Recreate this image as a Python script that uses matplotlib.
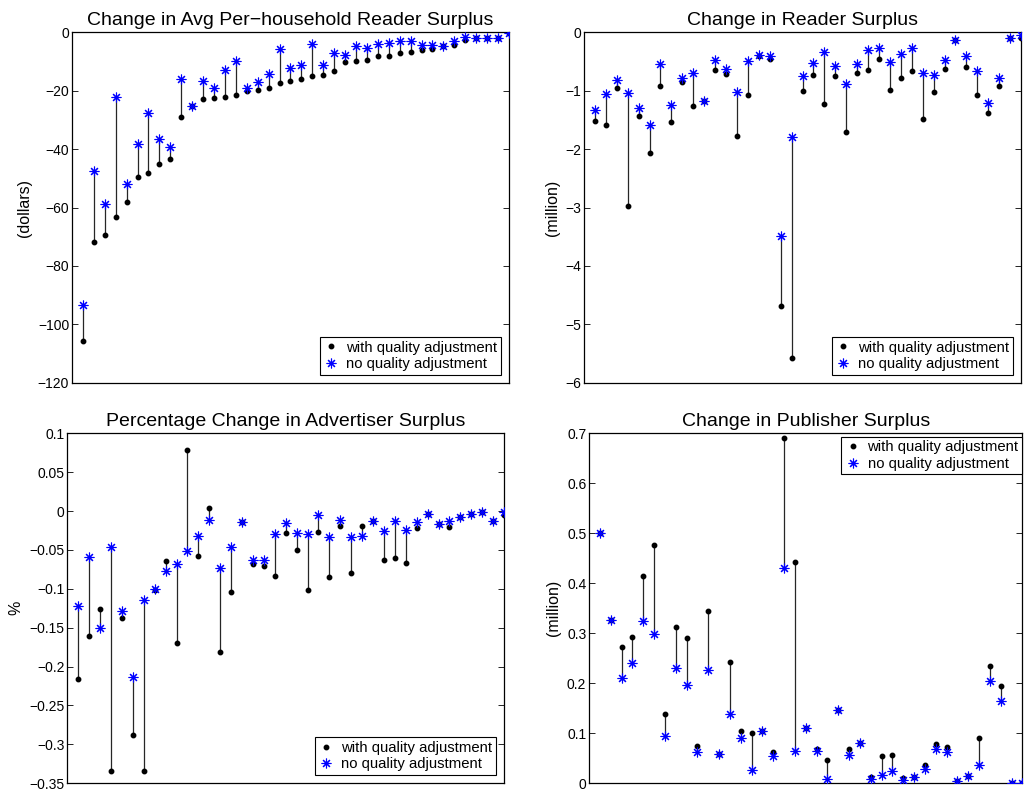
import matplotlib
matplotlib.use("Agg")
import matplotlib.pyplot as plt
from matplotlib.ticker import FuncFormatter

plt.rcParams["font.family"] = ["Liberation Sans", "DejaVu Sans"]

# Painel 1: variacao no excedente medio por domicilio (dolares)
reader_hh_qa = [-105.8, -71.7, -69.5, -63.3, -58.0, -49.7, -48.1, -45.2, -43.3, -29.0,
                -25.2, -22.8, -22.5, -22.3, -21.4, -20.1, -19.6, -19.1, -17.4, -16.8,
                -15.9, -14.8, -14.7, -13.4, -10.0, -9.7, -9.4, -8.1, -8.0, -7.1,
                -6.6, -6.2, -5.8, -4.6, -4.2, -2.6, -2.1, -2.1, -2.1, -0.3]
reader_hh_noqa = [-93.3, -47.5, -58.8, -22.2, -52.0, -38.1, -27.7, -36.6, -39.4, -15.9,
                  -25.2, -16.7, -19.1, -12.9, -9.7, -19.2, -17.1, -14.2, -5.6, -12.1,
                  -11.3, -4.1, -11.3, -7.0, -7.8, -4.7, -5.5, -4.0, -3.8, -2.9,
                  -3.1, -4.3, -4.3, -4.6, -3.1, -1.7, -2.1, -2.1, -2.1, -0.3]

# Painel 2: variacao no excedente do leitor (milhoes)
reader_qa = [-1.51, -1.59, -0.96, -2.97, -1.44, -2.07, -0.92, -1.54, -0.85, -1.27,
             -1.17, -0.65, -0.72, -1.78, -1.07, -0.40, -0.46, -4.68, -5.57, -1.01,
             -0.73, -1.23, -0.74, -1.71, -0.70, -0.64, -0.45, -0.99, -0.78, -0.67,
             -1.48, -1.02, -0.62, -0.14, -0.59, -1.08, -1.38, -0.92, -0.09, -0.09]
reader_noqa = [-1.33, -1.05, -0.82, -1.04, -1.29, -1.59, -0.54, -1.25, -0.78, -0.70,
               -1.17, -0.48, -0.62, -1.03, -0.49, -0.39, -0.40, -3.48, -1.79, -0.74,
               -0.52, -0.34, -0.58, -0.89, -0.55, -0.31, -0.27, -0.51, -0.37, -0.26,
               -0.70, -0.73, -0.47, -0.14, -0.41, -0.66, -1.21, -0.78, -0.09, -0.04]

# Painel 3: variacao percentual no excedente do anunciante
adv_qa = [-0.2155, -0.161, -0.126, -0.334, -0.138, -0.288, -0.334, -0.102, -0.064, -0.170,
          0.078, -0.0577, 0.0044, -0.181, -0.104, -0.0137, -0.0676, -0.071, -0.0835, -0.028,
          -0.0496, -0.102, -0.0269, -0.0843, -0.0187, -0.080, -0.0187, -0.0123, -0.0629, -0.0603,
          -0.0663, -0.0222, -0.0042, -0.0162, -0.0209, -0.0076, -0.0033, -0.0011, -0.0123, -0.005]
adv_noqa = [-0.1216, -0.059, -0.150, -0.0457, -0.128, -0.213, -0.114, -0.1006, -0.0775, -0.068,
            -0.051, -0.0316, -0.011, -0.0727, -0.046, -0.0137, -0.0625, -0.0633, -0.030, -0.0153,
            -0.028, -0.030, -0.0046, -0.0329, -0.0119, -0.0329, -0.032, -0.0123, -0.026, -0.0132,
            -0.0243, -0.014, -0.0042, -0.0162, -0.0123, -0.0076, -0.0033, -0.0011, -0.0123, -0.0016]

# Painel 4: variacao no excedente do editor (milhoes)
pub_qa = [0.5007, 0.327, 0.272, 0.292, 0.415, 0.477, 0.139, 0.313, 0.291, 0.075,
          0.345, 0.059, 0.242, 0.104, 0.101, 0.104, 0.063, 0.691, 0.443, 0.110,
          0.069, 0.046, 0.147, 0.069, 0.081, 0.013, 0.055, 0.057, 0.011, 0.013,
          0.036, 0.079, 0.072, 0.0047, 0.0147, 0.091, 0.234, 0.195, 0.0013, 0.0]
pub_noqa = [0.5007, 0.327, 0.211, 0.241, 0.325, 0.299, 0.095, 0.230, 0.197, 0.063,
            0.226, 0.059, 0.139, 0.091, 0.027, 0.104, 0.055, 0.431, 0.064, 0.110,
            0.064, 0.0087, 0.147, 0.057, 0.081, 0.008, 0.017, 0.025, 0.0073, 0.013,
            0.028, 0.069, 0.062, 0.0047, 0.0147, 0.037, 0.205, 0.165, 0.0013, 0.0]

paineis = [
    ("Change in Avg Per\u2212household Reader Surplus", "(dollars)", reader_hh_qa, reader_hh_noqa,
     (-120, 0), [-120, -100, -80, -60, -40, -20, 0], "lower right"),
    ("Change in Reader Surplus", "(million)", reader_qa, reader_noqa,
     (-6, 0), [-6, -5, -4, -3, -2, -1, 0], "lower right"),
    ("Percentage Change in Advertiser Surplus", "%", adv_qa, adv_noqa,
     (-0.35, 0.1), [-0.35, -0.3, -0.25, -0.2, -0.15, -0.1, -0.05, 0, 0.05, 0.1], "lower right"),
    ("Change in Publisher Surplus", "(million)", pub_qa, pub_noqa,
     (0, 0.7), [0, 0.1, 0.2, 0.3, 0.4, 0.5, 0.6, 0.7], "upper right"),
]

posicoes = [
    [0.0700, 0.5192, 0.4251, 0.4402],
    [0.5681, 0.5192, 0.4251, 0.4402],
    [0.0655, 0.0160, 0.4248, 0.4397],
    [0.5730, 0.0160, 0.4215, 0.4397],
]

fmt = FuncFormatter(lambda v, p: f"{v:g}".replace("-", "\u2212"))

fig = plt.figure(figsize=(10.28, 7.96), dpi=100)

for (titulo, ylab, com_q, sem_q, ylim, yt, loc), pos in zip(paineis, posicoes):
    ax = fig.add_axes(pos)
    x = list(range(1, len(com_q) + 1))
    ax.vlines(x, com_q, sem_q, colors="0.15", linewidth=0.9, zorder=1)
    ax.plot(x, com_q, "o", color="k", markersize=3.2, linestyle="none",
            label="with quality adjustment", zorder=2)
    ax.plot(x, sem_q, marker=(8, 2, 0), color="#0000ff", markersize=7, markeredgewidth=0.8,
            linestyle="none", label="no quality adjustment", zorder=3)
    ax.set_xlim(0, len(com_q))
    ax.set_ylim(*ylim)
    ax.set_yticks(yt)
    ax.yaxis.set_major_formatter(fmt)
    ax.set_xticks([])
    ax.tick_params(axis="y", direction="in", right=True, length=4, width=0.6,
                   labelsize=10, pad=2)
    for s in ax.spines.values():
        s.set_linewidth(0.9)
    ax.set_title(titulo, fontsize=14, pad=5)
    ax.set_ylabel(ylab, fontsize=11.5)
    if loc == "upper right":
        leg = ax.legend(loc="upper right", bbox_to_anchor=(1.0, 0.99), borderaxespad=0,
                        fontsize=10.7, fancybox=False, framealpha=1, edgecolor="k",
                        handlelength=1.0, handletextpad=0.5, borderpad=0.25, labelspacing=0.15)
    else:
        leg = ax.legend(loc="lower right", borderaxespad=0.55,
                        fontsize=10.7, fancybox=False, framealpha=1, edgecolor="k",
                        handlelength=1.0, handletextpad=0.5, borderpad=0.25, labelspacing=0.15)
    leg.get_frame().set_linewidth(0.8)

fig.savefig("out.png", dpi=100)
